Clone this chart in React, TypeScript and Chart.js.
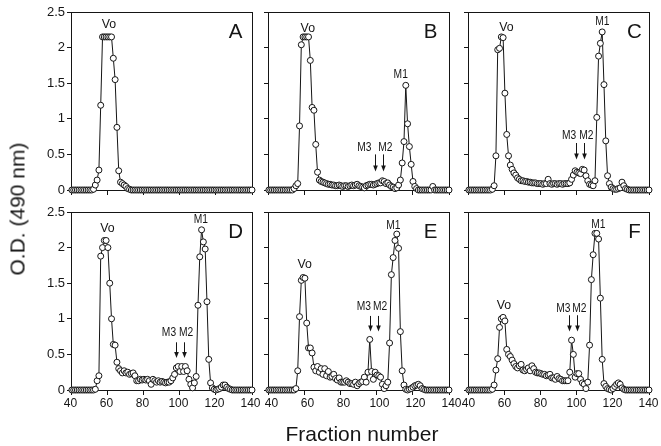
import React, { useEffect, useRef } from "react";
import { Chart, registerables } from "chart.js";

Chart.register(...registerables);

// ---------- data ----------
const fractions = [
  40, 41, 42, 43, 44, 45, 46, 47, 48, 49,
  50, 51, 52, 53, 54, 55, 56, 57, 58, 59,
  60, 61, 62, 63, 64, 65, 66, 67, 68, 69,
  70, 71, 72, 73, 74, 75, 76, 77, 78, 79,
  80, 81, 82, 83, 84, 85, 86, 87, 88, 89,
  90, 91, 92, 93, 94, 95, 96, 97, 98, 99,
  100, 101, 102, 103, 104, 105, 106, 107, 108, 109,
  110, 111, 112, 113, 114, 115, 116, 117, 118, 119,
  120, 121, 122, 123, 124, 125, 126, 127, 128, 129,
  130, 131, 132, 133, 134, 135, 136, 137, 138, 139,
  140,
];

const odA = [
  0, 0, 0, 0, 0, 0, 0, 0, 0, 0,
  0, 0, 0.01, 0.07, 0.14, 0.28, 1.19, 2.15, 2.15, 2.15,
  2.15, 2.15, 2.15, 1.85, 1.55, 0.88, 0.27, 0.11, 0.09, 0.07,
  0.05, 0.02, 0.01, 0, 0, 0, 0, 0, 0, 0,
  0, 0, 0, 0, 0, 0, 0, 0, 0, 0,
  0, 0, 0, 0, 0, 0, 0, 0, 0, 0,
  0, 0, 0, 0, 0, 0, 0, 0, 0, 0,
  0, 0, 0, 0, 0, 0, 0, 0, 0, 0,
  0, 0, 0, 0, 0, 0, 0, 0, 0, 0,
  0, 0, 0, 0, 0, 0, 0, 0, 0, 0,
  0,
];

const odB = [
  0, 0, 0, 0, 0, 0, 0, 0, 0, 0,
  0, 0, 0, 0, 0.02, 0.06, 0.09, 0.9, 2.04, 2.15,
  2.15, 2.15, 2.15, 1.82, 1.16, 1.12, 0.64, 0.25, 0.14, 0.12,
  0.11, 0.1, 0.09, 0.08, 0.08, 0.07, 0.07, 0.06, 0.06, 0.07,
  0.06, 0.05, 0.06, 0.06, 0.05, 0.06, 0.07, 0.06, 0.07, 0.08,
  0.06, 0.05, 0.04, 0.03, 0.06, 0.07, 0.08, 0.08, 0.07, 0.08,
  0.09, 0.1, 0.1, 0.13, 0.12, 0.09, 0.1, 0.07, 0.05, 0.04,
  0.02, 0.03, 0.07, 0.14, 0.38, 0.68, 1.47, 0.93, 0.61, 0.36,
  0.12, 0.05, 0.02, 0, 0, 0, 0, 0, 0, 0,
  0, 0.05, 0, 0, 0, 0, 0, 0, 0, 0,
  0,
];

const odC = [
  0, 0, 0, 0, 0, 0, 0, 0, 0, 0,
  0, 0, 0, 0.01, 0.06, 0.48, 1.97, 1.99, 2.15, 2.14,
  1.36, 0.78, 0.48, 0.35, 0.29, 0.24, 0.21, 0.17, 0.15, 0.13,
  0.13, 0.12, 0.12, 0.11, 0.11, 0.1, 0.1, 0.1, 0.09, 0.09,
  0.09, 0.08, 0.09, 0.09, 0.15, 0.09, 0.08, 0.09, 0.09, 0.08,
  0.09, 0.09, 0.08, 0.09, 0.09, 0.09, 0.1, 0.15, 0.21, 0.27,
  0.25, 0.24, 0.23, 0.29, 0.28, 0.2, 0.13, 0.08, 0.07, 0.06,
  0.13, 1.02, 1.88, 2.06, 2.22, 1.48, 0.69, 0.2, 0.09, 0.04,
  0.02, 0.01, 0.01, 0.02, 0.03, 0.11, 0.06, 0.02, 0.01, 0,
  0, 0, 0, 0, 0, 0, 0, 0, 0, 0,
  0,
];

const odD = [
  0, 0, 0, 0, 0, 0, 0, 0, 0, 0,
  0, 0, 0, 0.01, 0.13, 0.2, 1.88, 2.0, 2.1, 2.1,
  2.0, 1.5, 1.0, 0.64, 0.63, 0.39, 0.3, 0.27, 0.24, 0.27,
  0.24, 0.25, 0.22, 0.23, 0.24, 0.2, 0.13, 0.13, 0.15, 0.14,
  0.15, 0.14, 0.15, 0.13, 0.08, 0.15, 0.13, 0.11, 0.13, 0.11,
  0.12, 0.11, 0.1, 0.11, 0.11, 0.13, 0.17, 0.22, 0.31, 0.33,
  0.26, 0.33, 0.26, 0.33, 0.27, 0.15, 0.08, 0.03, 0.1, 0.19,
  1.19, 1.87, 2.25, 2.08, 1.98, 1.24, 0.43, 0.1, 0.03, 0.01,
  0, 0.01, 0.02, 0.04, 0.07, 0.07, 0.04, 0.02, 0.01, 0,
  0, 0, 0, 0, 0, 0, 0, 0, 0, 0,
  0,
];

const odE = [
  0, 0, 0, 0, 0, 0, 0, 0, 0, 0,
  0, 0, 0, 0, 0, 0.02, 0.27, 1.03, 1.54, 1.58,
  1.57, 0.94, 0.59, 0.59, 0.52, 0.32, 0.27, 0.33, 0.25, 0.3,
  0.22, 0.3, 0.2, 0.26, 0.18, 0.19, 0.22, 0.16, 0.14, 0.17,
  0.11, 0.11, 0.11, 0.13, 0.11, 0.09, 0.09, 0.08, 0.11, 0.06,
  0.09, 0.11, 0.12, 0.18, 0.11, 0.25, 0.71, 0.26, 0.15, 0.25,
  0.21, 0.2, 0.18, 0.08, 0.02, 0.06, 0.11, 0.66, 1.62, 1.86,
  2.1, 2.19, 1.99, 0.82, 0.27, 0.07, 0.01, 0, 0.01, 0.02,
  0.04, 0.06, 0.07, 0.08, 0.06, 0.02, 0.01, 0, 0, 0,
  0, 0, 0, 0, 0, 0, 0, 0, 0, 0,
  0,
];

const odF = [
  0, 0, 0, 0, 0, 0, 0, 0, 0, 0,
  0, 0, 0, 0.01, 0.07, 0.28, 0.44, 0.88, 1.0, 1.02,
  0.97, 0.57, 0.5, 0.47, 0.42, 0.37, 0.33, 0.31, 0.34, 0.36,
  0.28, 0.27, 0.29, 0.31, 0.27, 0.34, 0.3, 0.25, 0.24, 0.24,
  0.23, 0.22, 0.22, 0.2, 0.21, 0.22, 0.17, 0.17, 0.15, 0.19,
  0.16, 0.15, 0.13, 0.13, 0.13, 0.13, 0.25, 0.7, 0.5, 0.18,
  0.23, 0.23, 0.15, 0.1, 0.08, 0.02, 0.11, 0.63, 1.55, 1.9,
  2.2, 2.2, 2.12, 1.29, 0.43, 0.09, 0.05, 0.02, 0.01, 0,
  0.02, 0.05, 0.08, 0.1, 0.08, 0.03, 0.01, 0, 0, 0,
  0, 0, 0, 0, 0, 0, 0, 0, 0, 0,
  0,
];

const xTicks = [40, 60, 80, 100, 120, 140];
const yTicks = [0, 0.5, 1, 1.5, 2, 2.5];

// peak labels: [text, fraction, O.D.]
const labelsA: [string, number, number][] = [["Vo", 60.6, 2.32]];
const labelsB: [string, number, number][] = [["Vo", 61.6, 2.27], ["M1", 113.2, 1.62], ["M3", 93, 0.59], ["M2", 104.7, 0.59]];
const labelsC: [string, number, number][] = [["Vo", 60.8, 2.29], ["M1", 114.1, 2.36], ["M3", 95.6, 0.76], ["M2", 105.2, 0.76]];
const labelsD: [string, number, number][] = [["Vo", 59.7, 2.27], ["M1", 111.6, 2.39], ["M3", 93.9, 0.8], ["M2", 103.4, 0.8]];
const labelsE: [string, number, number][] = [["Vo", 59.9, 1.76], ["M1", 109.1, 2.31], ["M3", 92.7, 1.17], ["M2", 101.7, 1.17]];
const labelsF: [string, number, number][] = [["Vo", 59.5, 1.19], ["M1", 111.9, 2.33], ["M3", 92.5, 1.14], ["M2", 101.3, 1.14]];

// arrows: [fraction, O.D. top, O.D. tip]
const arrowsA: [number, number, number][] = [];
const arrowsB: [number, number, number][] = [[98.9, 0.5, 0.26], [103.2, 0.5, 0.26]];
const arrowsC: [number, number, number][] = [[99.5, 0.66, 0.43], [103.9, 0.66, 0.43]];
const arrowsD: [number, number, number][] = [[97.8, 0.67, 0.45], [102.4, 0.67, 0.45]];
const arrowsE: [number, number, number][] = [[96.3, 1.04, 0.82], [100.4, 1.04, 0.82]];
const arrowsF: [number, number, number][] = [[95.6, 1.05, 0.82], [100.1, 1.05, 0.82]];

// ---------- layout ----------
const COL_LEFT = [71, 268, 468];
const ROW_TOP = [12, 212];
const PLOT_W = 181;
const PLOT_H = 178;
const AXIS_W = 60;
const AXIS_H = 30;
const PAD_T = 14;
const PAD_R = 14;
const LETTER_OFFSET = [16.3, 18.5, 14.5];
const X_LABEL_SHIFT = [-1.5, 2.5, -0.5];
const INK = "#151515";
const FONT = "'Liberation Sans', Arial, Helvetica, sans-serif";

type PanelCfg = {
  letter: string;
  values: number[];
  col: number;
  row: number;
  labels: [string, number, number][];
  arrows: [number, number, number][];
};

const panels: PanelCfg[] = [
  { letter: "A", values: odA, col: 0, row: 0, labels: labelsA, arrows: arrowsA },
  { letter: "B", values: odB, col: 1, row: 0, labels: labelsB, arrows: arrowsB },
  { letter: "C", values: odC, col: 2, row: 0, labels: labelsC, arrows: arrowsC },
  { letter: "D", values: odD, col: 0, row: 1, labels: labelsD, arrows: arrowsD },
  { letter: "E", values: odE, col: 1, row: 1, labels: labelsE, arrows: arrowsE },
  { letter: "F", values: odF, col: 2, row: 1, labels: labelsF, arrows: arrowsF },
];

function Panel({ cfg }: { cfg: PanelCfg }) {
  const ref = useRef<HTMLCanvasElement>(null);
  const showX = cfg.row === 1;
  const showY = cfg.col === 0;
  const cw = AXIS_W + PLOT_W + PAD_R;
  const ch = PAD_T + PLOT_H + AXIS_H;

  useEffect(() => {
    const canvas = ref.current;
    if (!canvas) return;

    const framePlugin = {
      id: "frame",
      beforeDatasetsDraw(chart: any) {
        const { ctx, chartArea } = chart;
        const { left, top, right, bottom } = chartArea;
        ctx.save();
        ctx.strokeStyle = INK;
        ctx.lineWidth = 1;
        ctx.strokeRect(left + 0.5, top + 0.5, right - left, bottom - top);
        ctx.restore();
      },
    };

    const annotPlugin = {
      id: "annot",
      afterDatasetsDraw(chart: any) {
        const { ctx, chartArea, scales } = chart;
        const xs = scales.x;
        const ys = scales.y;
        ctx.save();
        ctx.fillStyle = INK;
        ctx.strokeStyle = INK;
        ctx.textAlign = "center";
        ctx.textBaseline = "middle";
        for (const [t, f, v] of cfg.labels) {
          const isVo = t === "Vo";
          ctx.save();
          ctx.translate(xs.getPixelForValue(f), ys.getPixelForValue(v));
          ctx.scale(isVo ? 0.95 : 0.82, 1);
          ctx.font = (isVo ? "13px " : "12.5px ") + FONT;
          ctx.fillText(t, 0, 0);
          ctx.restore();
        }
        for (const [f, v1, v2] of cfg.arrows) {
          const x = Math.round(xs.getPixelForValue(f)) + 0.5;
          const y1 = ys.getPixelForValue(v1);
          const y2 = ys.getPixelForValue(v2);
          ctx.lineWidth = 1;
          ctx.beginPath();
          ctx.moveTo(x, y1);
          ctx.lineTo(x, y2 - 4);
          ctx.stroke();
          ctx.beginPath();
          ctx.moveTo(x - 2.3, y2 - 6);
          ctx.lineTo(x + 2.3, y2 - 6);
          ctx.lineTo(x, y2);
          ctx.closePath();
          ctx.fill();
        }
        ctx.font = "20.5px " + FONT;
        ctx.textAlign = "center";
        ctx.textBaseline = "alphabetic";
        ctx.fillText(cfg.letter, chartArea.right - LETTER_OFFSET[cfg.col], chartArea.top + 25.7);
        ctx.restore();
      },
    };

    const chart = new Chart(canvas, {
      type: "line",
      data: {
        datasets: [
          {
            data: fractions.map((f, i) => ({ x: f, y: cfg.values[i] })),
            borderColor: INK,
            borderWidth: 1,
            pointRadius: 3,
            pointBackgroundColor: "#ffffff",
            pointBorderColor: INK,
            pointBorderWidth: 1,
            tension: 0,
            clip: false as any,
          },
        ],
      },
      options: {
        responsive: false,
        animation: false,
        devicePixelRatio: 1,
        events: [],
        layout: { padding: { left: 0, top: PAD_T, right: PAD_R, bottom: 0 }, autoPadding: false } as any,
        plugins: { legend: { display: false }, tooltip: { enabled: false } },
        scales: {
          x: {
            type: "linear",
            min: 39.5,
            max: 140,
            afterBuildTicks: (s: any) => {
              s.ticks = xTicks.map((v) => ({ value: v }));
            },
            afterFit: (s: any) => {
              s.height = AXIS_H;
              s.paddingLeft = 0;
              s.paddingRight = 0;
            },
            grid: { drawOnChartArea: false, drawTicks: true, tickLength: 5, color: INK, lineWidth: 1 },
            border: { display: false },
            ticks: {
              autoSkip: false,
              maxRotation: 0,
              padding: 1,
              labelOffset: X_LABEL_SHIFT[cfg.col],
              color: INK,
              font: { family: FONT, size: 12 },
              callback: (v: any) => (showX ? String(v) : ""),
            },
          },
          y: {
            type: "linear",
            min: 0,
            max: 2.5,
            afterBuildTicks: (s: any) => {
              s.ticks = yTicks.map((v) => ({ value: v }));
            },
            afterFit: (s: any) => {
              s.width = AXIS_W;
              s.paddingTop = 0;
              s.paddingBottom = 0;
            },
            grid: { drawOnChartArea: false, drawTicks: true, tickLength: 4, color: INK, lineWidth: 1 },
            border: { display: false },
            ticks: {
              autoSkip: false,
              padding: 2,
              color: INK,
              font: { family: FONT, size: 13 },
              callback: (v: any) => (showY ? String(v) : ""),
            },
          },
        },
      },
      plugins: [framePlugin, annotPlugin],
    } as any);

    return () => chart.destroy();
  }, [cfg]);

  return (
    <canvas
      ref={ref}
      width={cw}
      height={ch}
      style={{
        position: "absolute",
        left: COL_LEFT[cfg.col] - AXIS_W,
        top: ROW_TOP[cfg.row] - PAD_T,
        width: cw,
        height: ch,
      }}
    />
  );
}

export default function App() {
  return (
    <div
      style={{
        position: "absolute",
        left: 0,
        top: 0,
        width: 661,
        height: 446,
        background: "#ffffff",
        overflow: "hidden",
        fontFamily: FONT,
        color: INK,
      }}
    >
      {panels.map((p) => (
        <Panel key={p.letter} cfg={p} />
      ))}
      <div
        style={{
          position: "absolute",
          left: 17,
          top: 209,
          transform: "translate(-50%, -50%) rotate(-90deg)",
          fontSize: 21,
          lineHeight: "21px",
          whiteSpace: "nowrap",
        }}
      >
        O.D. (490 nm)
      </div>
      <div
        style={{
          position: "absolute",
          left: 362,
          top: 423,
          transform: "translateX(-50%)",
          fontSize: 21,
          lineHeight: "21px",
          whiteSpace: "nowrap",
        }}
      >
        Fraction number
      </div>
    </div>
  );
}
